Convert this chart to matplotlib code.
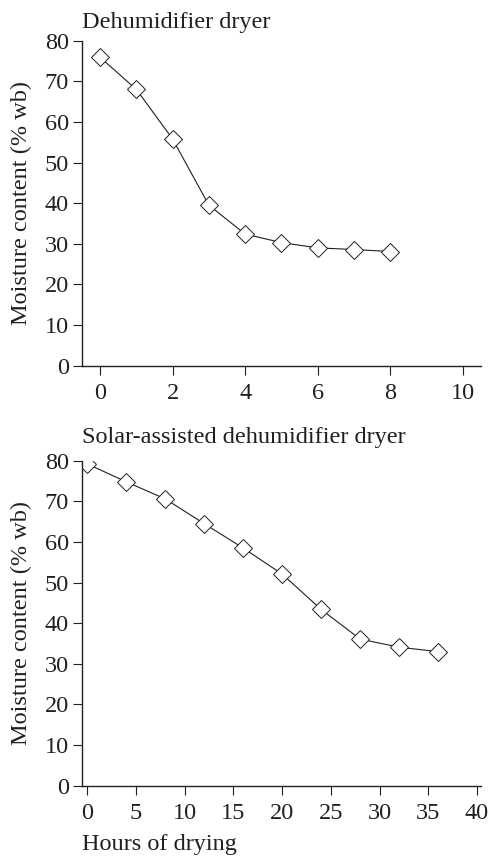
import matplotlib
matplotlib.use("Agg")
import matplotlib.pyplot as plt

# dehumidifier dryer
hours_dh = [0, 1, 2, 3, 4, 5, 6, 7, 8]
mc_dh = [75.9, 68.0, 55.8, 39.5, 32.4, 30.3, 29.0, 28.6, 28.1]

# solar-assisted dehumidifier dryer
hours_sa = [0, 4, 8, 12, 16, 20, 24, 28, 32, 36]
mc_sa = [79.2, 74.8, 70.6, 64.5, 58.5, 52.1, 43.4, 36.1, 34.1, 33.0]

ink = '#231f20'
plt.rcParams['font.family'] = ['Liberation Serif', 'DejaVu Serif']
plt.rcParams['font.size'] = 17.5
plt.rcParams['text.color'] = ink
plt.rcParams['axes.labelcolor'] = ink
plt.rcParams['xtick.color'] = ink
plt.rcParams['ytick.color'] = ink

fig = plt.figure(figsize=(4.9, 8.57), dpi=100)
ax1 = fig.add_axes([0.1673, 0.5733, 0.814, 0.3792])
ax2 = fig.add_axes([0.1673, 0.0832, 0.814, 0.3792])

def style(ax, x, y, title, xlim, xticks, title_y):
    ax.plot(x, y, color=ink, lw=0.8, marker='D', ms=9,
            mfc='white', mec=ink, mew=0.7)
    ax.set_xlim(*xlim)
    ax.set_ylim(0, 80)
    ax.set_xticks(xticks)
    ax.set_yticks(range(0, 81, 10))
    for s in ['top', 'right']:
        ax.spines[s].set_visible(False)
    for s in ['left', 'bottom']:
        ax.spines[s].set_linewidth(1.0)
        ax.spines[s].set_color(ink)
    ax.tick_params(direction='out', length=6.5, width=0.8)
    ax.tick_params(axis='x', pad=6)
    ax.tick_params(axis='y', pad=3)
    ax.set_ylabel('Moisture content (% wb)', labelpad=9)
    ax.text(0.0, title_y, title, transform=ax.transAxes, ha='left', va='bottom')
    ax.patch.set_alpha(0)

style(ax1, hours_dh, mc_dh, 'Dehumidifier dryer', (-0.5, 10.5), range(0, 11, 2), 1.025)
style(ax2, hours_sa, mc_sa, 'Solar-assisted dehumidifier dryer', (-0.55, 40.4), range(0, 41, 5), 1.04)
ax2.set_xlabel('Hours of drying', loc='left', labelpad=7)

fig.savefig('out.png', dpi=100)
